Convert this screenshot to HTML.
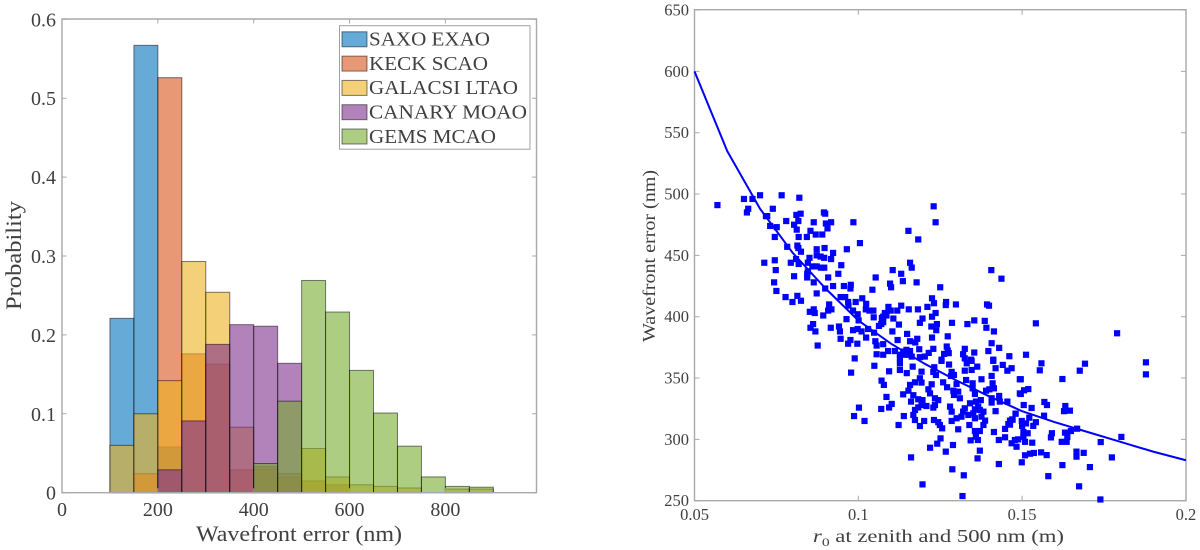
<!DOCTYPE html>
<html lang="en">
<head>
<meta charset="utf-8">
<title>Wavefront error charts</title>
<style>
html,body{margin:0;padding:0;background:#fff;width:1200px;height:550px;overflow:hidden}
svg{display:block}
text{font-family:"Liberation Serif",serif;fill:#404040}
</style>
</head>
<body>
<svg id="figure" xmlns="http://www.w3.org/2000/svg" width="1200" height="550" viewBox="0 0 1200 550"></svg>
<script>
const histBinStarts = [100,150,200,250,300,350,400,450,500,550,600,650,700,750,800,850];
const saxoValues    = [.221,.567,.058,0,0,0,0,0,0,0,0,0,0,0,0,0];
const keckValues    = [0,.024,.526,.176,.163,.029,.03,.02,.015,.01,0,0,0,0,0,0];
const galacsiValues = [.06,.10,.142,.293,.254,.083,.033,.024,.056,.02,.01,.008,.006,0,.0046,.0046];
const canaryValues  = [0,0,.029,.091,.188,.213,.211,.164,0,0,0,0,0,0,0,0];
const gemsValues    = [0,0,0,0,0,0,.037,.116,.269,.229,.155,.101,.059,.02,.008,.007];
const seriesLabels  = ["SAXO EXAO","KECK SCAO","GALACSI LTAO","CANARY MOAO","GEMS MCAO"];
const histXTicks = [0,200,400,600,800];
const histYTicks = [0,0.1,0.2,0.3,0.4,0.5,0.6];
const scatterXTicks = [0.05,0.1,0.15,0.2];
const scatterXTickLabels = ["0.05","0.1","0.15","0.2"];
const scatterYTicks = [250,300,350,400,450,500,550,600,650];
const curveR0  = [.05,.06,.07,.08,.09,.10,.11,.12,.13,.14,.15,.16,.17,.18,.19,.20];
const curveWfe = [600,535,488,452,423,397,378,362,348,335,323,314,306,298,290,283];
const scatterPoints = [
[.0570,491],[.0651,496],[.0677,496],[.0700,499],[.0766,499],[.0820,497],[.0664,488],[.0660,485],[.0739,488],[.0718,482],
[.0722,482],[.0811,483],[.0824,484],[.0895,485],[.0899,484],[.0817,478],[.0780,478],[.0804,475],[.0864,477],[.0901,476],
[.0917,477],[.0985,477],[.0731,474],[.0751,473],[.0812,471],[.0906,472],[.0854,470],[.0870,467],[.0890,467],[.0843,465],
[.0818,465],[.0745,465],[.0783,457],[.0814,458],[.0817,456],[.0825,453],[.0873,455],[.0897,456],[.0923,452],[.0965,455],
[.1005,460],[.0873,450],[.0885,449],[.0896,448],[.0917,447],[.0851,448],[.0810,447],[.0745,446],[.0713,444],[.0794,444],
[.0818,443],[.0846,444],[.0860,441],[.0873,441],[.0886,440],[.0896,440],[.0948,442],[.0748,438],[.0846,437],[.0844,435],
[.0844,432],[.0804,433],[.0908,432],[.0939,435],[.0743,428],[.0864,428],[.0923,425],[.0956,425],[.0977,426],[.0976,423],
[.0899,423],[.0750,421],[.0873,419],[.0778,416],[.0814,417],[.0825,413],[.0799,412],[.0946,416],[.0960,416],[.0969,412],
[.0970,409],[.0992,412],[.0911,410],[.0918,406],[.0908,405],[.0852,404],[.0864,406],[.0867,403],[.0893,401],[.0984,405],
[.0998,402],[.0964,398],[.1001,397],[.0862,394],[.0854,391],[.0869,388],[.0916,391],[.0941,392],[.0944,388],[.0946,382],
[.0984,389],[.0998,390],[.0969,378],[.0976,381],[.0997,378],[.0876,376.5],[.0989,366],
[.1230,490],[.1236,477],[.1153,470],[.1183,463],[.1158,444],[.1163,440],[.1105,438],[.1131,435],[.1053,432],[.1136,429],
[.1178,428],[.1097,427],[.1100,424],[.1043,422],[.1250,424],[.1406,438],[.1437,431],[.1012,415],[.1024,410.5],[.1023,406],
[.1034,405],[.1046,405],[.1225,415],[.1231,411],[.1268,412],[.1267,409.5],[.1298,410],[.1393,410],[.1399,409],[.1131,409],
[.1092,408],[.1099,405],[.1119,405],[.1154,406],[.1182,406],[.1211,408],[.1236,403],[.1081,403],[.1076,400],[.1086,401],
[.1047,399.5],[.1107,398.5],[.1196,398.5],[.1225,400],[.1072,399],[.1076,395.5],[.1070,394],[.1063,392.5],[.1124,393.6],[.1188,395],
[.1223,392],[.1240,394],[.1238,389],[.1286,395],[.1333,394],[.1354,397],[.1386,396.6],[.1391,391],[.1414,388],[.1010,388],
[.1030,390],[.1048,387],[.1104,388],[.1149,386],[.1273,384],[.1024,383],[.1225,383],[.1180,382],[.1120,381],[.1052,380],
[.1158,380],[.1174,379],[.1056,376.5],[.1076,377.6],[.1407,378.4],[.1270,375.7],[.1430,374.6],[.1186,373.5],[.1229,373.8],[.1325,373.8],
[.1091,372],[.1112,372],[.1137,371.6],[.1147,373],[.1158,372],[.1127,369],[.1142,369],[.1153,369],[.1163,367.5],[.1056,369.4],
[.1076,369],[.1215,370.5],[.1203,367.5],[.1262,369.7],[.1276,370.3],[.1273,372.4],[.1320,369.4],[.1354,370.8],[.1397,372],[.1461,367.8],
[.1325,366],[.1412,365],[.1344,365],[.1188,367],[.1127,366],[.1254,365],
[.0978,354.4],[.1049,360],[.1094,355.5],[.1127,356.6],[.1148,354],[.1127,362],[.1166,359.3],[.1193,355.2],[.1232,358.8],[.1229,355],
[.1237,352.5],[.1254,364],[.1277,361],[.1285,355],[.1283,351.7],[.1292,352.5],[.1325,356],[.1331,362],[.1346,364],[.1346,356.6],
[.1363,359.3],[.1412,364],[.1419,358],[.1441,360.7],[.1468,358],[.1455,356],[.1407,351.7],[.1329,348.4],[.1376,349],[.1410,345.7],
[.1414,341.6],[.1400,340.8],[.1390,339.7],[.1349,345.7],[.1349,341.6],[.1356,337],[.1374,332],[.1407,333.5],[.1407,330],[.1430,335.4],
[.1432,330.8],[.1455,330.8],[.1480,321],[.1419,323],[.1493,349],[.1493,337.5],[.1071,347.9],[.1078,344.4],[.1086,334.6],[.1102,328.9],
[.1094,326],[.1070,324.8],[.1002,325.9],[.0987,319],[.1019,315],[.1139,319],[.1123,311.7],[.1161,285.3],[.1196,263.3],[.1219,293.2],
[.1241,296.5],[.1251,300.8],[.1267,290],[.1289,295.4],[.1287,275.6],[.1322,270.7],[.1318,253.8],[.1364,284.5],[.1371,290.8],[.1429,279.9],
[.1343,299.2],[.1365,299.5],[.1359,302.2],[.1414,306],[.1429,299.5],[.1448,301.7],[.1448,308.5],[.1458,312.5],[.1470,316.3],[.1463,315.3],
[.1382,311.7],[.1387,315.3],[.1371,306.8],[.1356,306.8],[.1305,308.2],[.1285,315],[.1300,317.2],[.1315,318.5],[.1339,311.7],[.1325,325.3],
[.1341,329.4],[.1359,330.8],[.1366,326.7],[.1382,322.6],[.1376,318.5],[.1356,317.2],[.1351,321.2],[.1336,319.9],[.1320,322.6],[.1356,324.5],
[.1371,324],[.1280,326.7],[.1285,322.6],[.1231,315.8],[.1244,314],[.1249,311.7],[.1256,309],[.1201,315],[.1188,310.9],[.1173,315.8],
[.1168,319.9],[.1173,324],[.1183,326.1],[.1193,328],[.1208,327.2],[.1229,325.9],[.1234,328],[.1244,332],[.1234,333.5],[.1219,337.5],
[.1214,340.8],[.1224,344.9],[.1168,336],[.1153,339.7],[.1137,336.7],[.1158,344.4],[.1173,346.5],[.1188,349.8],[.1193,346.3],[.1161,330.8],
[.1183,332.7],[.1196,332],[.1259,346.5],[.1271,342.5],[.1300,345.2],[.1290,339.7],[.1305,338.9],[.1310,333.5],[.1292,336.2],
[.1542,394.6],[.1790,386.5],[.1512,369],[.1559,362],[.1692,361.7],[.1878,362.8],[.1878,353],[.1554,356.3],[.1676,356],[.1623,349.2],
[.1496,349],[.1519,341],[.1506,340],[.1496,337],[.1505,328],[.1529,325.6],[.1568,330.5],[.1576,328],[.1632,327.2],[.1628,323],
[.1646,323.4],[.1480,321],[.1567,319.3],[.1522,317.7],[.1471,316],[.1463,312],[.1499,315],[.1512,313],[.1542,314],[.1534,311],
[.1500,311],[.1668,308.7],[.1649,306.8],[.1591,305],[.1631,305.5],[.1588,301.6],[.1638,302],[.1504,306],[.1517,305],[.1504,302],
[.1488,300],[.1478,299.5],[.1468,296.8],[.1483,294],[.1509,298],[.1531,297.3],[.1621,298],[.1636,298],[.1740,297.8],[.1803,302],
[.1509,287],[.1524,288.3],[.1536,288.9],[.1558,289.4],[.1575,287.2],[.1666,290],[.1666,285.9],[.1688,289],[.1774,285.3],[.1499,281.3],
[.1623,279],[.1707,277.4],[.1580,270],[.1674,261.7],[.1739,251]
];

const NS = "http://www.w3.org/2000/svg";
const fig = document.getElementById("figure");
const AXIS = "#a8a8a8";

function make(tag, attrs, parent) {
  const el = document.createElementNS(NS, tag);
  for (const k in attrs) el.setAttribute(k, attrs[k]);
  (parent || fig).appendChild(el);
  return el;
}
function label(str, attrs, parent) {
  const t = make("text", attrs, parent);
  t.textContent = str;
  return t;
}

/* axis functions */
const hx = v => 62 + (v / 200) * 95.85;
const hy = v => 492.7 - v * 789;
const sx = v => 694.5 + (v - 0.05) * 3276;
const sy = v => 500.7 - (v - 250) * 1.2266;

/* ---------- histogram panel ---------- */
const histGroup = make("g", {});



const histFrame = make("rect", {x:62, y:19, width:474.5, height:473.7, fill:"#fff", stroke:"none"}, histGroup);



const seriesColors = ["#0072BD","#D95319","#EDB120","#7E2F8E","#77AC30"];
const seriesData = [saxoValues, keckValues, galacsiValues, canaryValues, gemsValues];
seriesData.forEach(function (vals, si) {
  const g = make("g", {}, histGroup);
  
  
  vals.forEach(function (v, i) {
    if (v <= 0) return;
    const x0 = hx(histBinStarts[i]), x1 = hx(histBinStarts[i] + 50);
    const bar = make("rect", {x:x0, y:hy(v), width:x1 - x0, height:hy(0) - hy(v),
      fill:seriesColors[si], "fill-opacity":0.6, stroke:"#000", "stroke-opacity":0.5, "stroke-width":1}, g);
    
    
  });
});

const histBox = make("path", {d:"M62 19H536.5V492.7H62Z", fill:"none", stroke:AXIS, "stroke-width":1.4}, histGroup);



histXTicks.forEach(function (v) {
  const x = hx(v);
  const t = make("path", {d:"M"+x+" 492.7v-4.5M"+x+" 19v4.5", stroke:AXIS, "stroke-width":1, fill:"none"}, histGroup);
  
  
  const l = label(String(v), {x:x, y:516, "text-anchor":"middle", "font-size":20}, histGroup);
  
  
});
histYTicks.forEach(function (v) {
  const y = hy(v);
  const t = make("path", {d:"M62 "+y+"h4.5M536.5 "+y+"h-4.5", stroke:AXIS, "stroke-width":1, fill:"none"}, histGroup);
  
  
  const l = label(v === 0 ? "0" : v.toFixed(1), {x:56, y:y + 7, "text-anchor":"end", "font-size":20}, histGroup);
  
  
});

const histXTitle = label("Wavefront error (nm)", {x:196, y:541, "font-size":22, textLength:206, lengthAdjust:"spacingAndGlyphs"}, histGroup);


const histYTitle = label("Probability", {transform:"translate(21 310) rotate(-90)", "font-size":22, textLength:109, lengthAdjust:"spacingAndGlyphs"}, histGroup);



/* legend */
const legend = make("g", {}, histGroup);


const legendBox = make("rect", {x:339.5, y:25.7, width:190.5, height:123.5, fill:"#fff", stroke:"#a0a0a0", "stroke-width":1}, legend);


const legendTextWidths = [121, 119, 149, 158, 127];
seriesLabels.forEach(function (name, i) {
  const cy = 39.3 + i * 24.3;
  const sw = make("rect", {x:342, y:cy - 7.5, width:25, height:15, fill:seriesColors[i], "fill-opacity":0.6, stroke:"#000", "stroke-opacity":0.5, "stroke-width":1}, legend);
  
  
  const tx = label(name, {x:369, y:cy + 6.3, "font-size":19.5, fill:"#202020", textLength:legendTextWidths[i], lengthAdjust:"spacingAndGlyphs"}, legend);
  
  
});

/* ---------- scatter panel ---------- */
const scatterGroup = make("g", {});



const scatterBox = make("path", {d:"M694.5 9.7H1186V500.7H694.5Z", fill:"none", stroke:AXIS, "stroke-width":1.4}, scatterGroup);



scatterXTicks.forEach(function (v, i) {
  const x = sx(v);
  const t = make("path", {d:"M"+x+" 500.7v-5M"+x+" 9.7v5", stroke:AXIS, "stroke-width":1, fill:"none"}, scatterGroup);
  
  
  const l = label(scatterXTickLabels[i], {x:x, y:520, "text-anchor":"middle", "font-size":16.5}, scatterGroup);
  
  
});
scatterYTicks.forEach(function (v) {
  const y = sy(v);
  const t = make("path", {d:"M694.5 "+y+"h5M1186 "+y+"h-5", stroke:AXIS, "stroke-width":1, fill:"none"}, scatterGroup);
  
  
  const l = label(String(v), {x:689, y:y + 5.5, "text-anchor":"end", "font-size":16.5}, scatterGroup);
  
  
});

const points = make("g", {fill:"#0000ff"}, scatterGroup);


scatterPoints.forEach(function (p) {
  const m = make("rect", {x:sx(p[0]) - 3.1, y:sy(p[1]) - 3.1, width:6.2, height:6.2}, points);
  
  
});

const curvePath = curveR0.map(function (r, i) { return (i ? "L" : "M") + sx(r) + " " + sy(curveWfe[i]); }).join("");
const curve = make("path", {d:curvePath, fill:"none", stroke:"#0000ff", "stroke-width":2, "stroke-linejoin":"round"}, scatterGroup);



const scatterXTitle = make("text", {x:813, y:542, "font-size":17.5, textLength:251, lengthAdjust:"spacingAndGlyphs"}, scatterGroup);


const rVar = make("tspan", {"font-style":"italic"}, scatterXTitle);
rVar.textContent = "r";
const rSub = make("tspan", {dy:4, "font-size":12}, scatterXTitle);
rSub.textContent = "0";
const rRest = make("tspan", {dy:-4}, scatterXTitle);
rRest.textContent = " at zenith and 500 nm (m)";

const scatterYTitle = label("Wavefront error (nm)", {transform:"translate(655 342) rotate(-90)", "font-size":18, textLength:172, lengthAdjust:"spacingAndGlyphs"}, scatterGroup);


</script>
</body>
</html>
